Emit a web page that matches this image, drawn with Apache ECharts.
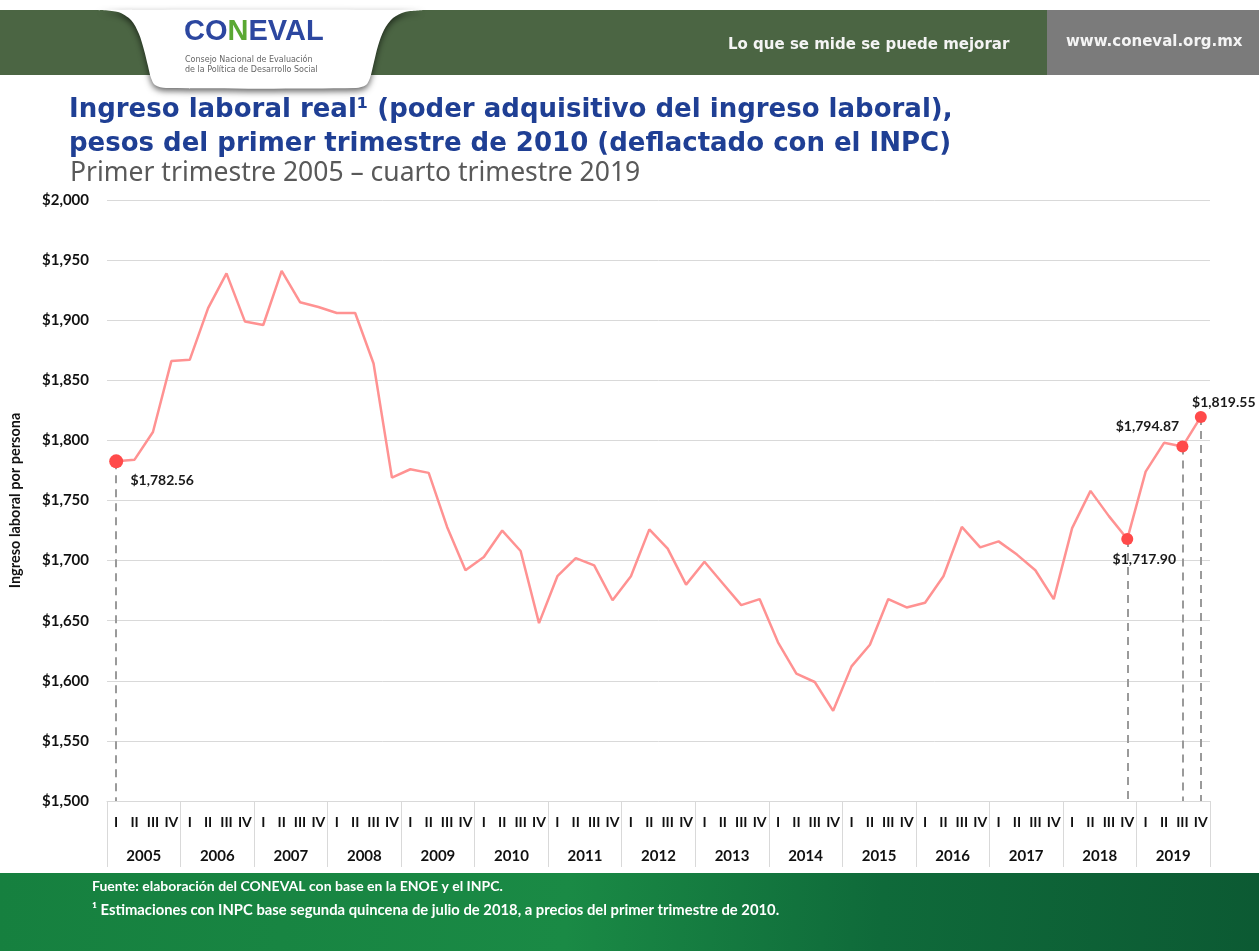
<!DOCTYPE html>
<html>
<head>
<meta charset="utf-8">
<title>Ingreso laboral real</title>
<script src="https://cdn.jsdelivr.net/npm/echarts@6/dist/echarts.min.js"></script>
<style>
  html, body { margin: 0; padding: 0; background: #fff; }
  #chart { width: 1259px; height: 951px; }
</style>
</head>
<body>
<div id="chart"></div>
<script>
// años y trimestres del eje x
var years = ['2005', '2006', '2007', '2008', '2009', '2010', '2011', '2012',
  '2013', '2014', '2015', '2016', '2017', '2018', '2019'];
var quarters = ['I', 'II', 'III', 'IV'];

// ingreso laboral real por trimestre (pesos de 2010 T1)
var ingreso = [
  1782.56, 1784, 1807, 1866,
  1867, 1910, 1939, 1899,
  1896, 1941, 1915, 1911,
  1906, 1906, 1864, 1769,
  1776, 1773, 1728, 1692,
  1703, 1725, 1708, 1648,
  1687, 1702, 1696, 1667,
  1687, 1726, 1710, 1680,
  1699, 1681, 1663, 1668,
  1632, 1606, 1599, 1575,
  1612, 1630, 1668, 1661,
  1665, 1687, 1728, 1711,
  1716, 1705, 1692, 1668,
  1727, 1758, 1737, 1717.90,
  1774, 1798, 1794.87, 1819.55
];

// puntos resaltados con etiqueta y línea punteada
var highlights = [0, 55, 58, 59];
var labelOffsets = {0: [46, 19], 55: [17, 20], 58: [-35, -20], 59: [23, -14]};

var yTicks = {min: 1500, max: 2000, step: 50};

var categories = [];
years.forEach(function (y) {
  quarters.forEach(function (q) { categories.push(y + ' ' + q); });
});

function money(v, dec) {
  return '$' + v.toLocaleString('en-US', {minimumFractionDigits: dec, maximumFractionDigits: dec});
}

var seriesData = ingreso.map(function (v, i) {
  if (highlights.indexOf(i) < 0) return v;
  return {
    value: v,
    symbol: 'circle',
    symbolSize: i === 0 ? 14 : 12,
    itemStyle: {color: '#ff4a4a'},
    label: {
      show: true,
      position: 'inside',
      offset: labelOffsets[i],
      formatter: money(v, 2),
      color: '#1a1a1a',
      fontWeight: 'bold',
      fontSize: 14,
      fontFamily: 'Lato'
    }
  };
});

var dropLines = highlights.map(function (i) {
  return [{coord: [categories[i], ingreso[i]]}, {coord: [categories[i], yTicks.min]}];
});

// contorno de la pestaña blanca del logo
var tabPoints = [
  [98, 10], [118, 12], [131, 20], [139, 34], [144, 50], [148, 66], [151, 78],
  [155, 85], [166, 88], [356, 88], [366, 85], [370, 78], [374, 62], [378, 46],
  [384, 30], [393, 18], [405, 12], [422, 10]
];

var myChart = echarts.init(document.getElementById('chart'));
var option = {
  animation: false,
  backgroundColor: '#fff',
  textStyle: {fontFamily: 'Lato'},
  graphic: [
    // franja superior
    {type: 'rect', x: 0, y: 10, shape: {x: 0, y: 0, width: 1259, height: 65}, style: {fill: '#4b6543'}, z: 1},
    {type: 'rect', x: 1047, y: 10, shape: {x: 0, y: 0, width: 212, height: 65}, style: {fill: '#7b7b7b'}, z: 2},
    {type: 'text', x: 728, y: 38, z: 3,
      style: {text: 'Lo que se mide se puede mejorar', fill: '#f4f4f4', font: 'bold 15px "DejaVu Sans"'}},
    {type: 'text', x: 1066, y: 35, z: 3,
      style: {text: 'www.coneval.org.mx', fill: '#f4f4f4', font: 'bold 15px "DejaVu Sans"'}},
    // pestaña del logo
    {type: 'polygon', z: 4,
      shape: {points: tabPoints, smooth: 0.3},
      style: {fill: '#fff', shadowBlur: 6, shadowOffsetY: 3, shadowColor: 'rgba(0,0,0,0.6)'}},
    {type: 'text', x: 184, y: 17, z: 5,
      style: {text: '{b|CO}{g|N}{b|EVAL}', rich: {
        b: {fill: '#2c47a0', font: 'bold 29px "Liberation Sans Narrow", "Liberation Sans"'},
        g: {fill: '#5aa832', font: 'bold 29px "Liberation Sans Narrow", "Liberation Sans"'}
      }}},
    {type: 'text', x: 185, y: 55, z: 5,
      style: {text: 'Consejo Nacional de Evaluación\nde la Política de Desarrollo Social', fill: '#666', font: '8px "DejaVu Sans"', lineHeight: 10}},
    // pie de página
    {type: 'rect', x: 0, y: 873, z: 1, shape: {x: 0, y: 0, width: 1259, height: 78},
      style: {fill: {
        type: 'linear', x: 0, y: 0, x2: 1, y2: 1,
        colorStops: [
          {offset: 0, color: '#16803f'},
          {offset: 0.45, color: '#1a8a45'},
          {offset: 0.7, color: '#0f6a3a'},
          {offset: 1, color: '#0c5a33'}
        ]
      }}},
    {type: 'text', x: 92, y: 879, z: 3,
      style: {text: 'Fuente: elaboración del CONEVAL con base en la ENOE y el INPC.', fill: '#fff', font: 'bold 14px Lato'}},
    {type: 'text', x: 92, y: 903, z: 3,
      style: {text: '¹ Estimaciones con INPC base segunda quincena de julio de 2018, a precios del primer trimestre de 2010.', fill: '#fff', font: 'bold 14.8px Lato'}}
  ],
  title: [
    {
      text: 'Ingreso laboral real¹ (poder adquisitivo del ingreso laboral),\npesos del primer trimestre de 2010 (deflactado con el INPC)',
      left: 64, top: 88,
      textStyle: {color: '#1f3f94', fontSize: 26, fontWeight: 'bold', fontFamily: 'DejaVu Sans', lineHeight: 34}
    },
    {
      text: 'Primer trimestre 2005 – cuarto trimestre 2019',
      left: 65, top: 155,
      textStyle: {color: '#595959', fontSize: 26.5, fontWeight: 'normal', fontFamily: 'Noto Sans'}
    }
  ],
  grid: {left: 107, right: 49, top: 200, bottom: 150},
  xAxis: [
    {
      type: 'category',
      data: categories,
      boundaryGap: true,
      axisLine: {lineStyle: {color: '#d9d9d9', width: 1}},
      axisTick: {
        show: true,
        length: 66,
        interval: function (i) { return i % 4 === 0; },
        lineStyle: {color: '#d9d9d9'}
      },
      axisLabel: {
        interval: 0,
        margin: 14,
        color: '#111',
        fontWeight: 'bold',
        fontSize: 14,
        formatter: function (v) { return v.split(' ')[1]; }
      }
    },
    {
      type: 'category',
      data: years,
      position: 'bottom',
      offset: 40,
      axisLine: {show: false},
      axisTick: {show: false},
      axisLabel: {interval: 0, margin: 8, color: '#111', fontWeight: 'bold', fontSize: 15}
    }
  ],
  yAxis: {
    type: 'value',
    min: yTicks.min,
    max: yTicks.max,
    interval: yTicks.step,
    name: 'Ingreso laboral por persona',
    nameLocation: 'middle',
    nameRotate: 90,
    nameGap: 84,
    nameTextStyle: {color: '#111', fontWeight: 'bold', fontSize: 14.5},
    axisLine: {show: false},
    axisTick: {show: false},
    axisLabel: {
      margin: 18,
      color: '#111',
      fontWeight: 'bold',
      fontSize: 15,
      formatter: function (v) { return money(v, 0); }
    },
    splitLine: {lineStyle: {color: '#d9d9d9', width: 1}}
  },
  series: [
    {
      type: 'line',
      xAxisIndex: 0,
      data: seriesData,
      symbol: 'none',
      showAllSymbol: true,
      lineStyle: {color: '#ff9292', width: 2.5},
      itemStyle: {color: '#ff9292'},
      z: 3,
      markLine: {
        silent: true,
        symbol: 'none',
        label: {show: false},
        lineStyle: {color: '#9a9a9a', type: [8, 6], width: 2},
        data: dropLines,
        z: 2
      }
    }
  ]
};
myChart.setOption(option);
</script>
</body>
</html>
